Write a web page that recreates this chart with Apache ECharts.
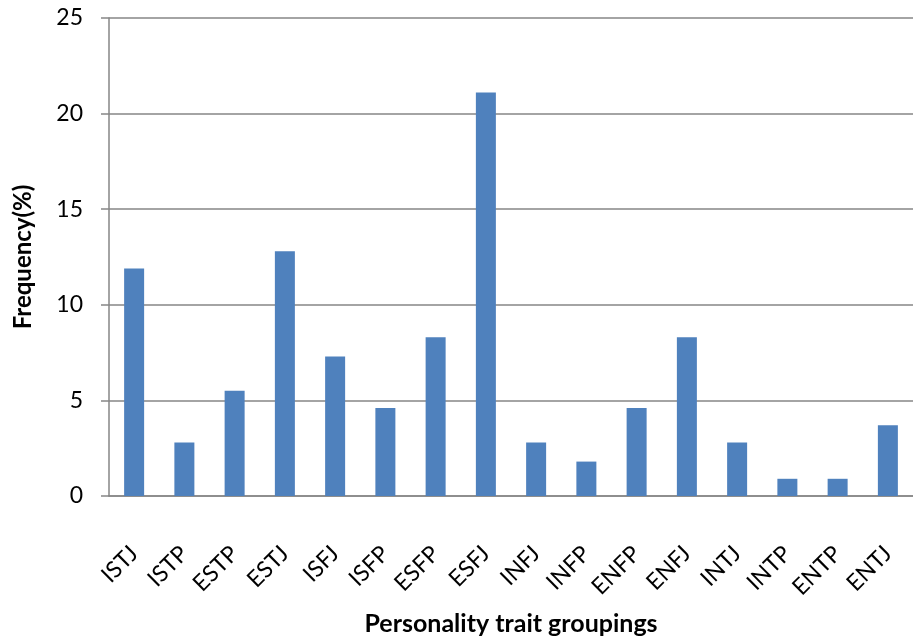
<!DOCTYPE html>
<html>
<head>
<meta charset="utf-8">
<script src="https://cdn.jsdelivr.net/npm/echarts@6/dist/echarts.min.js"></script>
<style>
html,body{margin:0;padding:0;background:#fff;}
#chart{width:913px;height:641px;}
</style>
</head>
<body>
<div id="chart"></div>
<script>
const categories = ["ISTJ","ISTP","ESTP","ESTJ","ISFJ","ISFP","ESFP","ESFJ","INFJ","INFP","ENFP","ENFJ","INTJ","INTP","ENTP","ENTJ"];
const frequency = [11.9, 2.8, 5.5, 12.8, 7.3, 4.6, 8.3, 21.1, 2.8, 1.8, 4.6, 8.3, 2.8, 0.9, 0.9, 3.7];
const yTicks = {min: 0, max: 25, interval: 5};
const xTitle = "Personality trait groupings";
const yTitle = "Frequency(%)";

const FONT = "Lato";
const chart = echarts.init(document.getElementById('chart'), null, {renderer: 'canvas'});
chart.setOption({
  animation: false,
  backgroundColor: '#ffffff',
  grid: {left: 109, top: 18, width: 808, height: 480, containLabel: false},
  xAxis: {
    type: 'category',
    data: categories,
    name: xTitle,
    nameLocation: 'middle',
    nameGap: 115,
    nameTextStyle: {fontFamily: FONT, fontWeight: 'bold', fontSize: 25, color: '#000', verticalAlign: 'top'},
    axisLine: {show: true, lineStyle: {color: '#868686', width: 1.5}},
    axisTick: {show: false},
    axisLabel: {rotate: 45, margin: 54, fontFamily: FONT, fontSize: 23, color: '#000', interval: 0},
    splitLine: {show: false}
  },
  yAxis: {
    type: 'value',
    min: yTicks.min, max: yTicks.max, interval: yTicks.interval,
    name: yTitle,
    nameLocation: 'middle',
    nameGap: 74,
    nameTextStyle: {fontFamily: FONT, fontWeight: 'bold', fontSize: 24, color: '#000'},
    axisLine: {show: true, lineStyle: {color: '#868686', width: 1.5}},
    axisTick: {show: true, length: 8, lineStyle: {color: '#868686', width: 1.5}},
    axisLabel: {margin: 26, fontFamily: FONT, fontSize: 23, color: '#000'},
    splitLine: {show: true, lineStyle: {color: '#868686', width: 1.5}}
  },
  series: [{
    type: 'bar',
    data: frequency,
    barWidth: 20,
    itemStyle: {color: '#4F81BD'}
  }]
});
</script>
</body>
</html>
